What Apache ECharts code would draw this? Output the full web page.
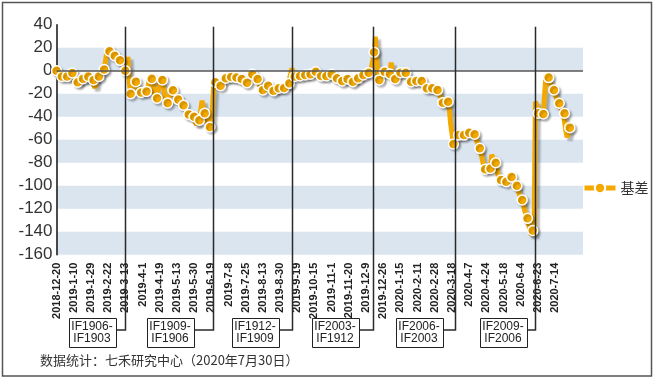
<!DOCTYPE html>
<html>
<head>
<meta charset="utf-8">
<script src="https://cdn.jsdelivr.net/npm/echarts@6/dist/echarts.min.js"></script>
<style>
html,body{margin:0;padding:0;background:#fff;}
#chart{width:655px;height:379px;}
</style>
</head>
<body>
<div id="chart"></div>
<script>
// ---- data ----
const tickLabels = ['2018-12-20','2019-1-10','2019-1-29','2019-2-22','2019-3-13','2019-4-1','2019-4-19','2019-5-13','2019-5-30','2019-6-19',
  '2019-7-8','2019-7-25','2019-8-13','2019-8-30','2019-9-19','2019-10-15','2019-11-1','2019-11-20','2019-12-9','2019-12-26',
  '2020-1-15','2020-2-11','2020-2-28','2020-3-18','2020-4-7','2020-4-24','2020-5-18','2020-6-4','2020-6-23','2020-7-14'];
const seriesName = '基差';
const basis = [
  0, -2, -4, -5, -5, -6, -4, -5, -5, -7, -5, -3, -2,
  -4, -7, -10, -10, -11, -8, -7, -7, -6, -8, -6, -5, -6,
  -7, -9, -8, -15, -9, -6, -5, -4, -3, -1, 1, 8, 16,
  18, 17, 15, 14, 14, 13, 12, 11, 10, 9, 8, 6, 3,
  0, 5, 12, -10, -20, -19, -14, -11, -9.5, -12, -17, -19, -19,
  -17, -16, -19, -18, -15, -9, -7, -7, -12, -20, -23, -24, -16,
  -10, -8, -8, -15, -22, -26, -28, -24, -20, -18, -17, -20, -23,
  -24, -25, -27, -28, -29, -30, -33, -35, -37, -38, -39, -40, -40,
  -40, -45, -47, -44, -43, -35, -26, -33, -37, -40, -45, -48, -49,
  -49, -30, -9.5, -10, -12, -12.4, -13, -13, -10, -8, -7, -6.6, -6,
  -5.5, -5, -5.5, -6, -6.5, -6, -6, -6.5, -7, -7.5, -7.3, -8, -9,
  -10, -10.4, -8, -5, -3.5, -3, -4, -5.5, -6.5, -7.3, -10, -14, -16,
  -16.8, -15, -14, -13, -13, -14.5, -16, -17, -17.4, -16.5, -16, -15.5, -15.3,
  -15, -15.5, -15.3, -15, -14, -13, -12, -11, -3, 2, -2, -5, -4.8,
  -4.7, -4.6, -4.6, -4.3, -4, -3.8, -3.7, -3.5, -3.3, -3.2, -3.1, -2.5, -1.8,
  -1.2, -0.9, -1.5, -2.5, -3.8, -4.6, -4.8, -4.5, -4.6, -4.6, -4.2, -3.6, -3.3,
  -3.1, -4, -5, -6, -6.6, -7.5, -8.3, -8.8, -9, -8.5, -8, -7.5, -7.2,
  -8, -9, -9.5, -9.6, -8.8, -7.8, -7, -6.6, -5.6, -4.8, -4.2, -3.7, -3,
  -2.4, -2, -1.7, -1.5, 2, 8, 16, 29.6, 10, -4, -8, -5, -2.5,
  -1.2, -0.9, -1.5, -2, -2.5, -2.9, 7, -3, -5.5, -7.2, -5, -3, -2,
  -1.7, -1.5, -1.3, -1.5, -1.7, -4, -7, -9, -9.6, -9.4, -9.2, -9, -9,
  -9.2, -9, -8.8, -9, -11, -13.5, -15, -15.3, -15.6, -15.2, -15, -15.3, -15.8,
  -16.3, -16.6, -16.8, -19, -22, -26, -27.8, -28, -27.5, -27, -27, -34, -47,
  -55, -63.7, -61, -58, -56.5, -56, -55.5, -55.8, -56.2, -56, -55, -54.5, -54.2,
  -54, -54.5, -55, -55.2, -55.3, -58, -62, -65, -67.5, -72, -78, -83, -85.7,
  -85.5, -85, -84.5, -85, -73, -76, -79, -80, -86, -92, -94, -95, -95.5,
  -96, -96.3, -96.5, -94, -92.5, -92, -92.5, -95, -98, -99.5, -100, -104, -108,
  -110.5, -112.4, -117, -122, -126, -128.4, -134, -140, -143, -139, -144, -27, -30,
  -37, -38, -37.5, -37, -37.7, -20, -4, -3, -6, -10, -13, -15, -16.8,
  -20, -24, -26.5, -28.3, -31, -34, -36, -37, -52, -58, -54, -49.5
];
const yTicks = { min: -160, max: 40, interval: 20 };
const rollIndex = [52, 118, 178, 239, 301, 362];
const rollLabels = ['IF1906-\nIF1903', 'IF1909-\nIF1906', 'IF1912-\nIF1909', 'IF2003-\nIF1912', 'IF2006-\nIF2003', 'IF2009-\nIF2006'];
const sourceNote = '数据统计：七禾研究中心（2020年7月30日）';

// ---- layout / style params ----
const labelStep = 13;      // one tick label every 13 trading days
const markerStep = 4;      // marker every 4th point
const slotCount = 399;     // axis slots (axis runs a little past the last point)
const boxGap = [10, 20, 14, 15, 13, 9];
const orange = '#F4A900';
const FONT = '"Liberation Sans", Arial, "Noto Sans CJK SC", sans-serif';

const categories = Array.from({ length: slotCount }, (_, i) =>
  i % labelStep === 0 ? (tickLabels[i / labelStep] || '') : '');
const seriesData = basis.map((v, i) => i % markerStep === 0 ? v : { value: v, symbol: 'none' });

const chart = echarts.init(document.getElementById('chart'), null, { renderer: 'canvas' });
const option = {
  animation: false,
  backgroundColor: '#fff',
  textStyle: { fontFamily: FONT },
  grid: { left: 56.5, right: 72, top: 24.7, bottom: 124.3, containLabel: false },
  legend: {
    data: [seriesName], left: 577, top: 176, itemWidth: 31, itemHeight: 13, itemGap: 8,
    textStyle: { fontSize: 14, color: '#333', fontFamily: '"Noto Sans CJK SC", sans-serif' },
    lineStyle: { width: 5, type: 'solid' }
  },
  xAxis: {
    type: 'category', data: categories, boundaryGap: false,
    axisLine: { show: false, onZero: false }, axisTick: { show: false },
    splitLine: { show: false },
    axisLabel: { interval: labelStep - 1, rotate: 90, margin: 8, fontSize: 11, fontWeight: 'bold', color: '#222', fontFamily: FONT }
  },
  yAxis: {
    type: 'value', min: yTicks.min, max: yTicks.max, interval: yTicks.interval,
    axisLine: { show: true, lineStyle: { color: '#111', width: 1.5 } },
    axisTick: { show: false },
    splitLine: { show: false },
    splitArea: { show: true, areaStyle: { color: ['#DAE5F0', 'rgba(255,255,255,0)'] } },
    axisLabel: { fontSize: 17, color: '#333', margin: 4, fontFamily: FONT }
  },
  series: [{
    name: seriesName, type: 'line', data: seriesData,
    showAllSymbol: true, symbol: 'circle', symbolSize: 10,
    lineStyle: { color: orange, width: 5, type: 'solid', shadowColor: 'rgba(0,0,0,0.28)', shadowBlur: 2, shadowOffsetX: 3, shadowOffsetY: 3 },
    itemStyle: { color: orange, borderColor: '#fff', borderWidth: 1.5, shadowColor: 'rgba(0,0,0,0.25)', shadowBlur: 2, shadowOffsetX: 2, shadowOffsetY: 2 },
    markLine: {
      silent: true, symbol: 'none', label: { show: false }, animation: false,
      lineStyle: { color: '#555', width: 1.5, type: 'solid', shadowBlur: 0, shadowOffsetX: 0, shadowOffsetY: 0 },
      data: [{ yAxis: 0 }]
    },
    z: 3
  }]
};
chart.setOption(option);

// annotations for contract rolls
const yTop = chart.convertToPixel({ yAxisIndex: 0 }, yTicks.max) + 2;
const connY = 330, boxW = 47, boxH = 29, boxTop = 318;
const elements = [];
rollIndex.forEach((idx, k) => {
  const x = Math.round(chart.convertToPixel({ xAxisIndex: 0 }, idx)) + 0.5;
  const right = x - boxGap[k];
  elements.push({
    type: 'polyline', z: 100,
    shape: { points: [[x, yTop], [x, connY], [right, connY]] },
    style: { stroke: '#2a2a2a', lineWidth: 1.5, fill: null }
  });
  elements.push({
    type: 'rect', z: 100,
    shape: { x: Math.round(right - boxW) + 0.5, y: boxTop + 0.5, width: boxW, height: boxH },
    style: { fill: '#fff', stroke: '#222', lineWidth: 1 }
  });
  elements.push({
    type: 'text', z: 101, x: right - boxW / 2, y: boxTop + boxH / 2,
    style: { text: rollLabels[k], font: '12px ' + FONT, fill: '#222', align: 'center', verticalAlign: 'middle', lineHeight: 12 }
  });
});
elements.push({
  type: 'text', z: 100, x: 40, y: 360,
  style: { text: sourceNote, font: '13px "Noto Sans CJK SC", sans-serif', fill: '#333', verticalAlign: 'middle' }
});
elements.push({
  type: 'rect', z: 0, silent: true,
  shape: { x: 2.5, y: 2.5, width: 649, height: 373.5 },
  style: { fill: null, stroke: '#555', lineWidth: 1.5 }
});
chart.setOption({ graphic: { elements } });
</script>
</body>
</html>
